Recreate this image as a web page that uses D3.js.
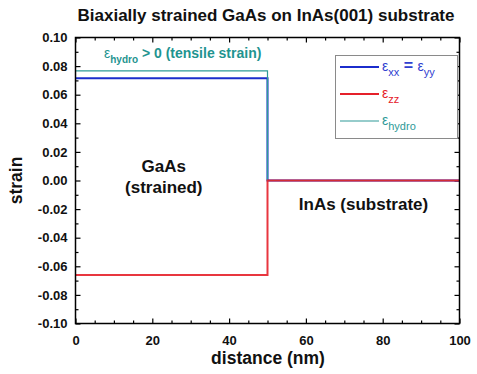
<!DOCTYPE html>
<html>
<head>
<meta charset="utf-8">
<script src="https://cdn.jsdelivr.net/npm/d3@7"></script>
<style>
  body { margin: 0; background: #fff; }
  svg { display: block; font-family: "Liberation Sans", Arial, sans-serif; }
  .tick text { font-weight: bold; font-size: 13px; fill: #111; }
  .domain { display: none; }
</style>
</head>
<body>
<div id="container"><svg></svg></div>
<script>
let width = 477;
let height = 374;
let padding = {'left': 75.5, 'right': 17.5, 'top': 37.5, 'bottom': 50.5};

// data (step profiles, interface at 50 nm)
let distance = [0, 50, 50, 100];
let eps_xx = [0.0715, 0.0715, 0, 0];
let eps_zz = [-0.066, -0.066, 0, 0];
let eps_hydro = [0.0767, 0.0767, 0, 0];
let xMajor = [0, 20, 40, 60, 80, 100];
let yMajor = [-0.10, -0.08, -0.06, -0.04, -0.02, 0.00, 0.02, 0.04, 0.06, 0.08, 0.10];

let seriesNames = ['hydro', 'xx', 'zz'];
let seriesColors = ['#2e9a98', '#1b2ccc', '#e5202a'];
let seriesWidths = [1.2, 2, 2];

let svg, xScale, yScale;

function draw() {
    svg = d3.select('#container').select('svg')
        .attr('width', width)
        .attr('height', height);

    xScale = d3.scaleLinear().domain([0, 100]).range([padding.left, width - padding.right]);
    yScale = d3.scaleLinear().domain([-0.1, 0.1]).range([height - padding.bottom, padding.top]);

    let x0 = xScale.range()[0], x1 = xScale.range()[1];
    let y0 = yScale.range()[0], y1 = yScale.range()[1];
    let xMinor = d3.range(0, 101, 5).filter(v => v % 20 !== 0);
    let yMinor = d3.range(-10, 11, 1).filter(v => v % 2 !== 0).map(v => v / 100);
    let yFmt = v => d3.format('.2f')(v).replace('−', '-');

    // axes, ticks pointing inward
    svg.append('g').attr('transform', `translate(0,${y0})`)
        .call(d3.axisBottom(xScale).tickValues(xMajor).tickSize(-5).tickPadding(12).tickFormat(d3.format('d')));
    svg.append('g').attr('transform', `translate(0,${y0})`)
        .call(d3.axisBottom(xScale).tickValues(xMinor).tickSize(-3).tickFormat(''));
    svg.append('g').attr('transform', `translate(0,${y1})`)
        .call(d3.axisTop(xScale).tickValues(xMajor).tickSize(-5).tickFormat(''));
    svg.append('g').attr('transform', `translate(0,${y1})`)
        .call(d3.axisTop(xScale).tickValues(xMinor).tickSize(-3).tickFormat(''));
    svg.append('g').attr('transform', `translate(${x0},0)`)
        .call(d3.axisLeft(yScale).tickValues(yMajor).tickSize(-5).tickPadding(8).tickFormat(yFmt));
    svg.append('g').attr('transform', `translate(${x0},0)`)
        .call(d3.axisLeft(yScale).tickValues(yMinor).tickSize(-3).tickFormat(''));
    svg.append('g').attr('transform', `translate(${x1},0)`)
        .call(d3.axisRight(yScale).tickValues(yMajor).tickSize(-5).tickFormat(''));
    svg.append('g').attr('transform', `translate(${x1},0)`)
        .call(d3.axisRight(yScale).tickValues(yMinor).tickSize(-3).tickFormat(''));
    svg.selectAll('.tick line').attr('stroke', '#000').attr('stroke-width', 1.2);

    // lines
    let seriesData = [eps_hydro, eps_xx, eps_zz];
    let line = d3.line().x(d => xScale(d[0])).y(d => yScale(d[1]));
    let order = [1, 0, 2];
    order.forEach(i => {
        svg.append('path')
            .attr('d', line(distance.map((x, j) => [x, seriesData[i][j]])))
            .attr('fill', 'none')
            .attr('stroke', seriesColors[i])
            .attr('stroke-width', seriesWidths[i])
            .attr('stroke-opacity', i === 2 ? 0.9 : 1);
    });

    // frame
    svg.append('rect')
        .attr('x', x0).attr('y', y1)
        .attr('width', x1 - x0).attr('height', y0 - y1)
        .attr('fill', 'none').attr('stroke', '#000').attr('stroke-width', 1.5);

    // title and axis labels
    svg.append('text').attr('x', 266).attr('y', 21)
        .attr('text-anchor', 'middle').attr('font-weight', 'bold').attr('font-size', 17)
        .attr('fill', '#111')
        .text('Biaxially strained GaAs on InAs(001) substrate');
    svg.append('text').attr('x', 268).attr('y', 364)
        .attr('text-anchor', 'middle').attr('font-weight', 'bold').attr('font-size', 17.5)
        .attr('fill', '#111')
        .text('distance (nm)');
    svg.append('text')
        .attr('transform', `translate(22,${yScale(0)}) rotate(-90)`)
        .attr('text-anchor', 'middle').attr('font-weight', 'bold').attr('font-size', 17.5)
        .attr('fill', '#111')
        .text('strain');

    // region labels
    let bold17 = s => s.attr('font-weight', 'bold').attr('font-size', 17).attr('fill', '#111').attr('text-anchor', 'middle');
    svg.append('text').attr('x', xScale(23)).attr('y', 172).call(bold17).text('GaAs');
    svg.append('text').attr('x', xScale(23)).attr('y', 193).call(bold17).text('(strained)');
    svg.append('text').attr('x', xScale(75)).attr('y', 210).call(bold17).text('InAs (substrate)');

    // annotation
    let ann = svg.append('text').attr('x', 104).attr('y', 58)
        .attr('fill', '#1f9490').attr('font-size', 14);
    ann.append('tspan').text('ε');
    ann.append('tspan').attr('font-size', 10).attr('dy', 5).attr('font-weight', 'bold').text('hydro');
    ann.append('tspan').attr('dy', -5).attr('font-weight', 'bold').text(' > 0 (tensile strain)');

    // legend
    let lg = svg.append('g');
    lg.append('rect').attr('x', 335.5).attr('y', 55.5).attr('width', 122).attr('height', 83)
        .attr('fill', '#fff').attr('stroke', '#8a8a8a').attr('stroke-width', 1);
    let legendRows = [
        {i: 1, y: 67, parts: [['ε', 0], ['xx', 1], [' = ', 2], ['ε', 0], ['yy', 1]]},
        {i: 2, y: 94, parts: [['ε', 0], ['zz', 1]]},
        {i: 0, y: 121, parts: [['ε', 0], ['hydro', 1]]}
    ];
    let textColors = ['#2e9a98', '#3040d0', '#e5202a'];
    legendRows.forEach(r => {
        lg.append('line').attr('x1', 340).attr('x2', 379).attr('y1', r.y).attr('y2', r.y)
            .attr('stroke', seriesColors[r.i]).attr('stroke-width', seriesWidths[r.i]);
        let t = lg.append('text').attr('x', 382).attr('y', r.y + 4)
            .attr('fill', textColors[r.i]).attr('font-size', 14);
        let sub = false;
        r.parts.forEach(p => {
            let ts = t.append('tspan').text(p[0]);
            if (p[1] === 1) {
                ts.attr('font-size', 11).attr('dy', sub ? 0 : 5);
                sub = true;
            } else {
                if (sub) ts.attr('dy', -5);
                sub = false;
                if (p[1] === 2) ts.attr('font-weight', 'bold').attr('font-size', 16);
            }
        });
    });
}

draw();
</script>
</body>
</html>
